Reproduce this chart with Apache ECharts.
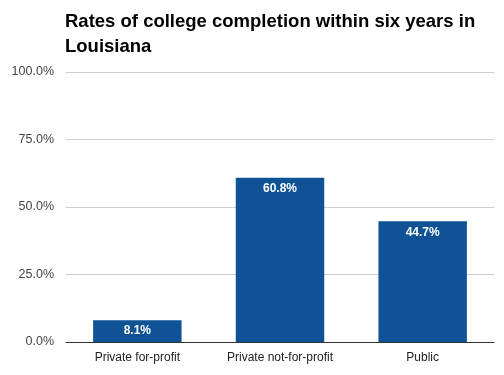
<!DOCTYPE html>
<html>
<head>
<meta charset="utf-8">
<script src="https://cdn.jsdelivr.net/npm/echarts@6/dist/echarts.min.js"></script>
<style>
  html, body { margin: 0; padding: 0; background: #fff; }
  #chart { width: 504px; height: 375px; }
</style>
</head>
<body>
<div id="chart"></div>
<script>
// college completion rates, Louisiana
var categories = ["Private for-profit", "Private not-for-profit", "Public"];
var rates = [8.1, 60.8, 44.7];
var yTicks = [0, 25, 50, 75, 100];

var chart = echarts.init(document.getElementById("chart"));
var option = {
  animation: false,
  title: {
    text: "Rates of college completion within six years in\nLouisiana",
    left: 65,
    top: 9,
    padding: 0,
    textStyle: {
      fontFamily: "Liberation Sans, Arial",
      fontWeight: "bold",
      fontSize: 18.5,
      lineHeight: 25,
      color: "#000"
    }
  },
  grid: {
    left: 66,
    right: 10,
    top: 72,
    bottom: 33
  },
  xAxis: {
    type: "category",
    data: categories,
    axisTick: { show: false },
    axisLine: { lineStyle: { color: "#333", width: 1 } },
    axisLabel: {
      color: "#222",
      fontFamily: "Liberation Sans, Arial",
      fontSize: 12,
      margin: 10
    }
  },
  yAxis: {
    type: "value",
    min: yTicks[0],
    max: yTicks[yTicks.length - 1],
    interval: 25,
    axisLine: { show: false },
    axisTick: { show: false },
    splitLine: { lineStyle: { color: "#ccc" } },
    axisLabel: {
      color: "#444",
      fontFamily: "Liberation Sans, Arial",
      fontSize: 12.5,
      margin: 12,
      formatter: function (v) { return v.toFixed(1) + "%"; }
    }
  },
  series: [
    {
      type: "bar",
      data: rates,
      barWidth: "62%",
      itemStyle: { color: "#0f5396" },
      label: {
        show: true,
        position: "insideTop",
        distance: 5,
        color: "#fff",
        fontFamily: "Liberation Sans, Arial",
        fontWeight: "bold",
        fontSize: 12,
        formatter: function (p) { return p.value.toFixed(1) + "%"; }
      }
    }
  ]
};
chart.setOption(option);
</script>
</body>
</html>
